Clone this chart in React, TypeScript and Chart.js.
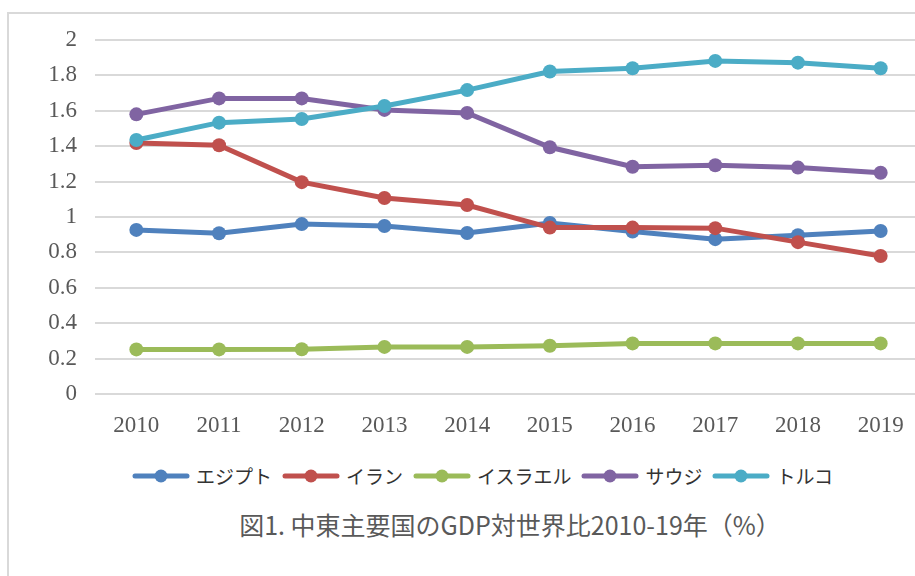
import React, { useEffect, useRef } from "react";
import { Chart, registerables } from "chart.js";

Chart.register(...registerables);

const years = ["2010", "2011", "2012", "2013", "2014", "2015", "2016", "2017", "2018", "2019"];
const egypt = [0.927, 0.908, 0.96, 0.949, 0.91, 0.966, 0.918, 0.875, 0.897, 0.921];
const iran = [1.418, 1.405, 1.197, 1.107, 1.068, 0.94, 0.94, 0.937, 0.858, 0.78];
const israel = [0.252, 0.252, 0.253, 0.266, 0.266, 0.273, 0.286, 0.286, 0.286, 0.286];
const saudi = [1.58, 1.67, 1.67, 1.605, 1.588, 1.394, 1.284, 1.292, 1.279, 1.25];
const turkey = [1.435, 1.533, 1.554, 1.627, 1.717, 1.822, 1.84, 1.882, 1.872, 1.84];

const seriesNames = ["エジプト", "イラン", "イスラエル", "サウジ", "トルコ"];
const seriesColors = ["#4f81bd", "#c0504d", "#9bbb59", "#8064a2", "#4bacc6"];
const seriesValues = [egypt, iran, israel, saudi, turkey];

const yMin = 0;
const yMax = 2;
const yStep = 0.2;

const titleText = "図1. 中東主要国のGDP対世界比2010-19年（%）";

const CANVAS_W = 960;
const CANVAS_H = 440;

export default function App() {
  const canvasRef = useRef<HTMLCanvasElement | null>(null);

  useEffect(() => {
    const canvas = canvasRef.current;
    if (!canvas) return;
    const datasets = seriesNames.map((name, i) => ({
      label: name,
      data: seriesValues[i],
      borderColor: seriesColors[i],
      backgroundColor: seriesColors[i],
      pointBackgroundColor: seriesColors[i],
      pointBorderColor: seriesColors[i],
      borderWidth: 5,
      pointRadius: 7,
      pointBorderWidth: 0,
      pointHoverRadius: 7,
      tension: 0,
      order: seriesNames.length - i,
    }));
    const chart = new Chart(canvas, {
      type: "line",
      data: { labels: years, datasets },
      options: {
        responsive: false,
        animation: false,
        devicePixelRatio: 1,
        layout: { padding: { top: 40, right: CANVAS_W - 922, bottom: 0, left: 0 } },
        plugins: {
          legend: { display: false },
          title: { display: false },
          tooltip: { enabled: false },
        },
        scales: {
          x: {
            offset: true,
            grid: { display: false, drawTicks: false },
            border: { display: false },
            ticks: {
              color: "#595959",
              font: { family: "'Liberation Serif', 'DejaVu Serif', serif", size: 23 },
              padding: 18,
              maxRotation: 0,
            },
            afterFit: (scale: any) => {
              scale.height = CANVAS_H - 394;
            },
          },
          y: {
            min: yMin,
            max: yMax,
            grid: { color: "#d9d9d9", lineWidth: 2, drawTicks: false },
            border: { display: false },
            ticks: {
              stepSize: yStep,
              color: "#595959",
              font: { family: "'Liberation Serif', 'DejaVu Serif', serif", size: 23 },
              padding: 18,
              callback: (v: any) => String(Math.round(Number(v) * 10) / 10),
            },
            afterFit: (scale: any) => {
              scale.width = 95;
            },
          },
        },
      },
    });
    return () => chart.destroy();
  }, []);

  return (
    <div
      style={{
        position: "fixed",
        left: 0,
        top: 0,
        width: 915,
        height: 576,
        overflow: "hidden",
        background: "#ffffff",
      }}
    >
      <div
        style={{
          position: "absolute",
          left: 7,
          top: 12,
          width: 1000,
          height: 700,
          border: "2px solid #d9d9d9",
          boxSizing: "border-box",
        }}
      />
      <canvas
        ref={canvasRef}
        width={CANVAS_W}
        height={CANVAS_H}
        style={{ position: "absolute", left: 0, top: 0, width: CANVAS_W, height: CANVAS_H }}
      />
      <div
        style={{
          position: "absolute",
          left: 0,
          top: 462,
          width: 975,
          display: "flex",
          justifyContent: "center",
          alignItems: "center",
          fontFamily: "'Noto Sans CJK JP', sans-serif",
          fontSize: 19,
          color: "#333333",
          lineHeight: "28px",
        }}
      >
        {seriesNames.map((name, i) => (
          <div key={name} style={{ display: "flex", alignItems: "center", marginRight: 10 }}>
            <svg width={58} height={16} style={{ display: "block" }}>
              <line x1={3} y1={8} x2={55} y2={8} stroke={seriesColors[i]} strokeWidth={5} strokeLinecap="round" />
              <circle cx={29} cy={8} r={6.5} fill={seriesColors[i]} />
            </svg>
            <span style={{ marginLeft: 6 }}>{name}</span>
          </div>
        ))}
      </div>
      <div
        style={{
          position: "absolute",
          left: 0,
          top: 507,
          width: 1020,
          textAlign: "center",
          fontFamily: "'Noto Sans CJK JP', sans-serif",
          fontSize: 25,
          color: "#595959",
          lineHeight: "34px",
        }}
      >
        {titleText}
      </div>
    </div>
  );
}
